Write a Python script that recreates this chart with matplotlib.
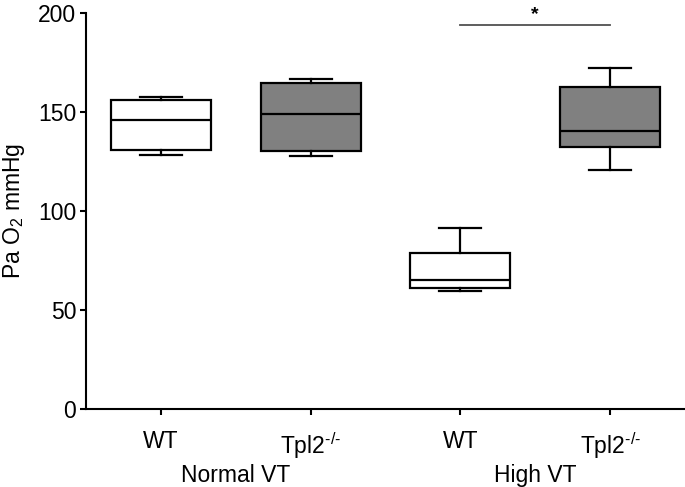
import matplotlib
matplotlib.use("Agg")
import matplotlib.pyplot as plt

plt.rcParams['font.family'] = ['Liberation Sans', 'DejaVu Sans']
plt.rcParams['mathtext.fontset'] = 'custom'
plt.rcParams['mathtext.rm'] = 'Liberation Sans'
plt.rcParams['mathtext.it'] = 'Liberation Sans'
plt.rcParams['mathtext.default'] = 'rm'

# Data (box statistics)
groups = ["WT", r"Tpl2$^{\text{-/-}}$", "WT", r"Tpl2$^{\text{-/-}}$"]
conditions = ["Normal VT", "High VT"]
whisker_low = [128.0, 127.6, 59.6, 120.5]
q1 = [130.8, 130.4, 61.3, 132.4]
median = [145.7, 148.7, 65.1, 140.3]
q3 = [155.7, 164.7, 78.7, 162.5]
whisker_high = [157.3, 166.5, 91.1, 171.9]
fills = ["white", "#808080", "white", "#808080"]
yticks = [0, 50, 100, 150, 200]
sig_pair = (3, 4)
sig_level = 194.0
sig_text = "*"

fig = plt.figure(figsize=(6.85, 4.87), dpi=100)
ax = fig.add_axes([86/685, 78/487, 599/685, 396.3/487])

stats = []
for i in range(len(groups)):
    stats.append(dict(whislo=whisker_low[i], q1=q1[i], med=median[i],
                      q3=q3[i], whishi=whisker_high[i], fliers=[]))

positions = list(range(1, len(groups) + 1))
bp = ax.bxp(stats, positions=positions, widths=0.667, capwidths=0.28,
            showfliers=False, patch_artist=True,
            boxprops=dict(linewidth=1.6, edgecolor='black'),
            medianprops=dict(color='black', linewidth=1.6),
            whiskerprops=dict(color='black', linewidth=1.6),
            capprops=dict(color='black', linewidth=1.6))
for patch, c in zip(bp['boxes'], fills):
    patch.set_facecolor(c)

ax.set_xlim(0.5, 4.5)
ax.set_ylim(0, 200)
ax.set_yticks(yticks)
ax.set_xticks(positions)
ax.set_xticklabels(groups)
ax.tick_params(axis='y', labelsize=16.5, length=4, width=1.5, pad=3)
ax.tick_params(axis='x', labelsize=16.5, length=4, width=1.5, pad=11)

for s in ['top', 'right']:
    ax.spines[s].set_visible(False)
for s in ['left', 'bottom']:
    ax.spines[s].set_linewidth(1.5)

ax.set_ylabel("Pa O$_2$ mmHg", fontsize=16.5)
ax.yaxis.set_label_coords(-0.099, 0.5)

trans = ax.get_xaxis_transform()
for j, cond in enumerate(conditions):
    xc = (positions[2*j] + positions[2*j+1]) / 2
    ax.text(xc, -0.169, cond, transform=trans, ha='center', va='center',
            fontsize=16.5)

ax.plot([sig_pair[0], sig_pair[1]], [sig_level, sig_level], color='#505050',
        linewidth=1.3, clip_on=False)
ax.text((sig_pair[0] + sig_pair[1]) / 2, sig_level + 2.8, sig_text,
        ha='center', va='baseline', fontsize=14, fontweight='bold',
        clip_on=False)

fig.savefig("out.png", dpi=100)
